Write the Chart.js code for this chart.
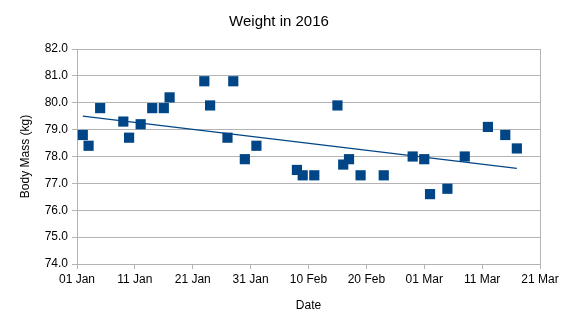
<!DOCTYPE html>
<html>
<head>
<meta charset="utf-8">
<script src="https://cdn.jsdelivr.net/npm/chart.js@4/dist/chart.umd.min.js"></script>
<style>
  html, body { margin: 0; padding: 0; background: #ffffff; }
  #wrap { width: 566px; height: 323px; position: relative; }
</style>
</head>
<body>
<div id="wrap"><canvas id="c" width="566" height="323"></canvas></div>
<script>
// ---- data ----
const dates = [
  "2016-01-02","2016-01-03","2016-01-05","2016-01-09","2016-01-10","2016-01-12",
  "2016-01-14","2016-01-16","2016-01-17","2016-01-23","2016-01-24","2016-01-27",
  "2016-01-28","2016-01-30","2016-02-01","2016-02-08","2016-02-09","2016-02-11",
  "2016-02-15","2016-02-16","2016-02-17","2016-02-19","2016-02-23","2016-02-28",
  "2016-03-01","2016-03-02","2016-03-05","2016-03-08","2016-03-12","2016-03-15",
  "2016-03-17"
];
const weights = [
  78.8, 78.4, 79.8, 79.3, 78.7, 79.2,
  79.8, 79.8, 80.2, 80.8, 79.9, 78.7,
  80.8, 77.9, 78.4, 77.5, 77.3, 77.3,
  79.9, 77.7, 77.9, 77.3, 77.3, 78.0,
  77.9, 76.6, 76.8, 78.0, 79.1, 78.8,
  78.3
];
const xTickLabels = ["01 Jan","11 Jan","21 Jan","31 Jan","10 Feb","20 Feb","01 Mar","11 Mar","21 Mar"];
const chartTitle = "Weight in 2016";
const xTitle = "Date";
const yTitle = "Body Mass (kg)";

// ---- derived ----
const origin = Date.UTC(2016, 0, 1);
const dayOf = s => (Date.parse(s + "T00:00:00Z") - origin) / 86400000;
const points = dates.map((d, i) => ({ x: dayOf(d), y: weights[i] }));

// linear trend line (least squares) from the data
const n = points.length;
const mx = points.reduce((a, p) => a + p.x, 0) / n;
const my = points.reduce((a, p) => a + p.y, 0) / n;
let sxy = 0, sxx = 0;
points.forEach(p => { sxy += (p.x - mx) * (p.y - my); sxx += (p.x - mx) * (p.x - mx); });
const slope = sxy / sxx;
const icpt = my - slope * mx;
const x0 = points[0].x, x1 = points[n - 1].x;
const trend = [{ x: x0, y: icpt + slope * x0 }, { x: x1, y: icpt + slope * x1 }];

const BLUE = "#004586";
const GRID = "#b3b3b3";
const FONT = "'Liberation Sans', Arial, sans-serif";

new Chart(document.getElementById("c"), {
  type: "scatter",
  data: {
    datasets: [
      {
        label: "Weight",
        data: points,
        pointStyle: "rect",
        pointRadius: 7.2,
        pointHoverRadius: 7.2,
        backgroundColor: BLUE,
        borderColor: BLUE,
        borderWidth: 0,
        order: 1
      },
      {
        label: "Trend",
        type: "line",
        data: trend,
        borderColor: BLUE,
        borderWidth: 1.2,
        pointRadius: 0,
        fill: false,
        order: 2
      }
    ]
  },
  options: {
    responsive: false,
    animation: false,
    events: [],
    layout: { padding: { left: 18, right: 26, top: 0, bottom: 10 } },
    plugins: {
      legend: { display: false },
      tooltip: { enabled: false },
      title: {
        display: true,
        text: chartTitle,
        color: "#000000",
        font: { family: FONT, size: 15, weight: "normal" },
        padding: { top: 13, bottom: 18 }
      }
    },
    scales: {
      x: {
        type: "linear",
        min: 0,
        max: 80,
        afterBuildTicks: ax => { ax.ticks = xTickLabels.map((_, i) => ({ value: i * 10 })); },
        afterFit: ax => { ax.height = 49; },
        ticks: {
          callback: (v, i) => xTickLabels[i],
          color: "#000000",
          font: { family: FONT, size: 12 },
          padding: 3,
          maxRotation: 0,
          autoSkip: false
        },
        grid: {
          color: ctx => (ctx.index === xTickLabels.length - 1 ? GRID : "rgba(0,0,0,0)"),
          tickColor: GRID,
          tickLength: 5,
          lineWidth: 1
        },
        border: { color: GRID, width: 1 },
        title: {
          display: true,
          text: xTitle,
          color: "#000000",
          font: { family: FONT, size: 12 },
          padding: { top: 8, bottom: 0 }
        }
      },
      y: {
        min: 74,
        max: 82,
        afterFit: ax => { ax.width = 59; },
        ticks: {
          stepSize: 1,
          callback: v => Number(v).toFixed(1),
          color: "#000000",
          font: { family: FONT, size: 12 },
          padding: 4
        },
        grid: {
          color: GRID,
          tickColor: GRID,
          tickLength: 5,
          lineWidth: 1
        },
        border: { color: GRID, width: 1 },
        title: {
          display: true,
          text: yTitle,
          color: "#000000",
          font: { family: FONT, size: 12 },
          padding: { top: 0, bottom: 8 }
        }
      }
    }
  }
});
</script>
</body>
</html>
